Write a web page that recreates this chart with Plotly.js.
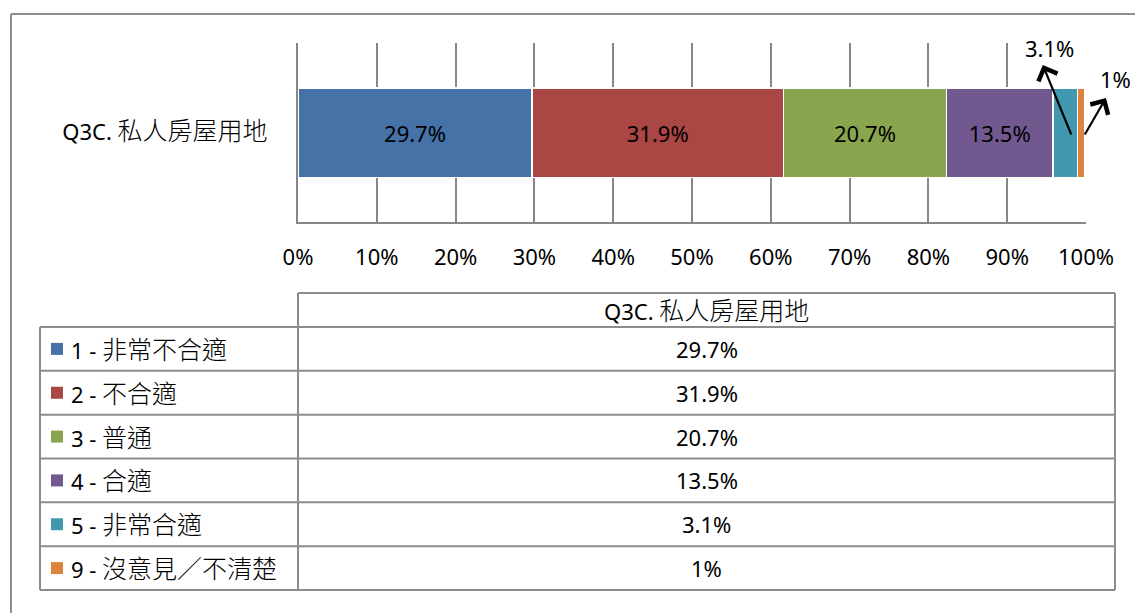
<!DOCTYPE html>
<html><head><meta charset="utf-8">
<script src="https://cdn.plot.ly/plotly-3.0.1.min.js"></script>
<style>html,body{margin:0;padding:0;background:#fff}#chart{width:1135px;height:613px}</style>
</head><body><div id="chart"></div>
<script>
// ---- data ----
const category = 'Q3C. 私人房屋用地';
const seriesNames = ['1 - 非常不合適', '2 - 不合適', '3 - 普通', '4 - 合適', '5 - 非常合適', '9 - 沒意見／不清楚'];
const seriesValues = [29.7, 31.9, 20.7, 13.5, 3.1, 1];
const seriesColors = ['#4572A7', '#AA4643', '#89A54E', '#71588F', '#4198AF', '#DB843D'];
const tickValues = [0, 10, 20, 30, 40, 50, 60, 70, 80, 90, 100];
const tickLabels = ['0%', '10%', '20%', '30%', '40%', '50%', '60%', '70%', '80%', '90%', '100%'];

// ---- presentation ----
const W = 1135, H = 613;
const FONT = 'Noto Sans, Noto Sans CJK TC, sans-serif';
const GRID = '#878787';
const px = x => x / W;
const py = y => 1 - y / H;
const fmt = v => v + '%';
const cjk = s => s.replace(/([\u3000-\u9fff\uff00-\uffef]+)/g, '<span style="font-size:25px;font-weight:300">$1</span>');

const traces = seriesValues.map((v, i) => ({
  type: 'bar', orientation: 'h',
  y: [category], x: [v], name: seriesNames[i],
  width: 0.5,
  marker: {color: seriesColors[i], line: {color: '#ffffff', width: 1.5}},
  text: [v >= 5 ? fmt(v) : ''],
  textposition: v >= 5 ? 'inside' : 'none',
  insidetextanchor: 'middle',
  constraintext: 'none',
  textfont: {color: '#000000', size: 22, family: FONT},
  hoverinfo: 'skip'
}));

// small-segment callouts: arrow from the segment up to the label
// [fraction along segment for arrow tail, head dx, head dy, label dx, label dy]
const callout = [null, null, null, null, [0.75, -29, -71, -22, -86], [0.95, 22, -38, 31, -55]];
const annotations = [];
let cum = 0;
seriesValues.forEach((v, i) => {
  const start = cum;
  cum += v;
  if (v < 5) {
    const c = callout[i];
    const xt = start + v * c[0];
    annotations.push({
      x: xt, y: category, xref: 'x', yref: 'y', yshift: -2,
      text: '', showarrow: true, arrowside: 'start',
      startarrowhead: 4, startarrowsize: 1.8,
      arrowwidth: 2.2, arrowcolor: '#000', startstandoff: 0, standoff: 0,
      ax: c[1], ay: c[2]
    });
    annotations.push({
      x: xt, y: category, xref: 'x', yref: 'y',
      xshift: c[3], yshift: -c[4] - 2, showarrow: false,
      text: fmt(v), xanchor: 'center', yanchor: 'middle',
      font: {family: FONT, size: 22, color: '#000'}
    });
  }
});

// data table below the chart
const shapes = [];
const tblL = 40, tblC = 298, tblR = 1115, hdrT = 293, bodyT = 327, bodyB = 590;
const rowH = (bodyB - bodyT) / seriesNames.length;
const line = (x0, y0, x1, y1, color, w) => ({type: 'line', xref: 'paper', yref: 'paper',
  x0: px(x0), y0: py(y0), x1: px(x1), y1: py(y1), line: {color: color || '#8c8c8c', width: w || 2}});
// outer frame
shapes.push(line(11, 14, 1140, 14, '#8e8e8e', 2));
shapes.push(line(11, 14, 11, 620, '#8e8e8e', 2));
// header box
shapes.push(line(tblC, hdrT, tblR, hdrT));
shapes.push(line(tblC, hdrT, tblC, bodyT));
shapes.push(line(tblR, hdrT, tblR, bodyT));
annotations.push({xref: 'paper', yref: 'paper', x: px((tblC + tblR) / 2), y: py((hdrT + bodyT) / 2),
  text: cjk(category), showarrow: false, xanchor: 'center', yanchor: 'middle',
  font: {family: FONT, size: 22, color: '#000'}});
// body rows
for (let r = 0; r <= seriesNames.length; r++) {
  const y = bodyT + r * rowH;
  shapes.push(line(tblL, y, tblR, y));
}
shapes.push(line(tblL, bodyT, tblL, bodyB));
shapes.push(line(tblC, bodyT, tblC, bodyB));
shapes.push(line(tblR, bodyT, tblR, bodyB));
seriesNames.forEach((name, r) => {
  const cy = bodyT + (r + 0.5) * rowH;
  shapes.push({type: 'rect', xref: 'paper', yref: 'paper',
    x0: px(51), x1: px(63), y0: py(cy - 6), y1: py(cy + 6),
    fillcolor: seriesColors[r], line: {width: 0}});
  annotations.push({xref: 'paper', yref: 'paper', x: px(69), y: py(cy),
    text: cjk(name), showarrow: false, xanchor: 'left', yanchor: 'middle',
    font: {family: FONT, size: 22, color: '#000'}});
  annotations.push({xref: 'paper', yref: 'paper', x: px((tblC + tblR) / 2), y: py(cy),
    text: fmt(seriesValues[r]), showarrow: false, xanchor: 'center', yanchor: 'middle',
    font: {family: FONT, size: 22, color: '#000'}});
});

const layout = {
  width: W, height: H,
  margin: {l: 0, r: 0, t: 0, b: 0},
  paper_bgcolor: '#ffffff', plot_bgcolor: '#ffffff',
  barmode: 'stack', showlegend: false,
  font: {family: FONT, size: 22, color: '#000'},
  xaxis: {
    domain: [px(298), px(1086)], range: [0, 100],
    tickvals: tickValues, ticktext: tickLabels,
    showgrid: true, gridcolor: GRID, gridwidth: 2,
    showline: true, linecolor: GRID, linewidth: 2,
    zeroline: false, ticks: '', ticklabelstandoff: 15,
    tickfont: {family: FONT, size: 22, color: '#000'}, fixedrange: true
  },
  yaxis: {
    domain: [py(222), py(43)], range: [-0.5, 0.5], type: 'category',
    tickvals: [category], ticktext: [cjk(category)],
    showgrid: false, showline: true, linecolor: GRID, linewidth: 2,
    zeroline: false, ticks: '', ticklabelstandoff: 24,
    tickfont: {family: FONT, size: 22, color: '#000'}, fixedrange: true
  },
  shapes: shapes,
  annotations: annotations
};

Plotly.newPlot('chart', traces, layout, {displayModeBar: false, staticPlot: true});
</script>
</body></html>
